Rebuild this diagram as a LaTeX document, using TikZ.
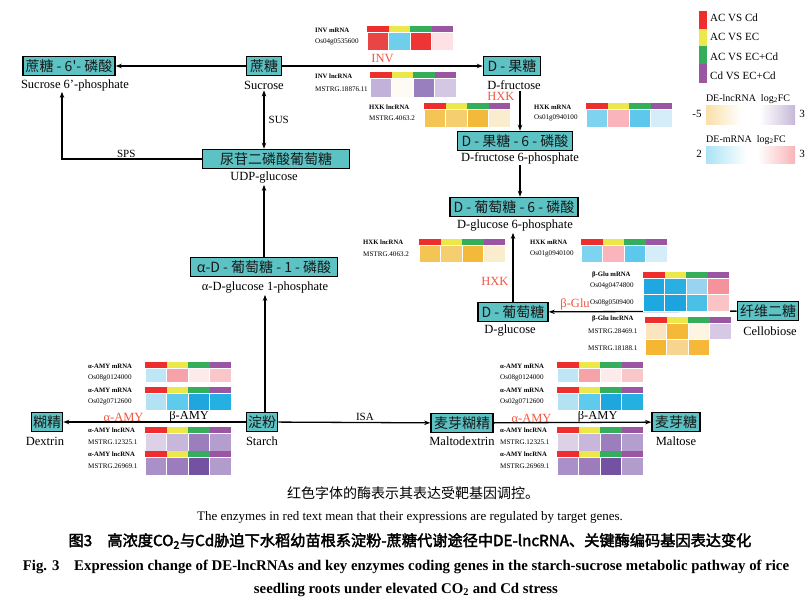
\documentclass[tikz,border=0pt]{standalone}
\usepackage{fontspec}
\setmainfont{Liberation Serif}
\newfontfamily\cjk{Noto Sans CJK SC}
\newfontfamily\cjkb[FakeBold=2.5]{Noto Sans CJK SC}
\usetikzlibrary{positioning,arrows.meta}

\definecolor{boxteal}{HTML}{5CC2C4}
\definecolor{hmred}{HTML}{EE2D2D}
\definecolor{hmyel}{HTML}{EDE84A}
\definecolor{hmgrn}{HTML}{35AE5C}
\definecolor{hmpur}{HTML}{9A55A3}
\definecolor{enzred}{HTML}{F0553F}
\definecolor{lncorg}{HTML}{F3B73C}
\definecolor{lncpur}{HTML}{7E5FA8}
\definecolor{mrblue}{HTML}{4DC4EA}
\definecolor{mrred}{HTML}{EE5A62}
\pgfdeclarehorizontalshading{lncbar}{100bp}{color(0bp)=(lncorg); color(45bp)=(white); color(55bp)=(white); color(100bp)=(lncpur)}
\pgfdeclarehorizontalshading{mrbar}{100bp}{color(0bp)=(mrblue); color(48bp)=(white); color(54bp)=(white); color(100bp)=(mrred)}

\newcommand{\hmhead}[2]{%
  \foreach \c [count=\i from 0] in {hmred,hmyel,hmgrn,hmpur}
    \fill[\c] (#1+21.5*\i,#2) rectangle ++(21.5,6);}
\newcommand{\hmrow}[4]{%
  \foreach \c [count=\i from 0] in {#4}{%
    \edef\tmp{\noexpand\definecolor{cellc}{HTML}{\c}}\tmp
    \filldraw[fill=cellc,draw=white,line width=0.4pt] (#1+21.5*\i,#2) rectangle ++(21.5,#3);}}

\begin{document}
\begin{tikzpicture}[x=1pt,y=-1pt,
    cn/.style={draw=black, line width=1.6pt, fill=boxteal, inner sep=1pt, minimum height=19pt,
      font=\cjk\fontsize{14}{14}\selectfont, text=black!90},
    en/.style={inner sep=1pt, font=\fontsize{12.5}{13}\selectfont},
    arr/.style={-{Stealth[length=6pt,width=4.5pt]}, line width=1.3pt, draw=black},
    enz/.style={inner sep=1pt, text=enzred, font=\fontsize{12.5}{13}\selectfont},
    enzb/.style={inner sep=1pt, font=\fontsize{12.5}{13}\selectfont},
    lab/.style={inner sep=1pt, font=\fontsize{11}{12}\selectfont},
    hmb/.style={anchor=west, inner sep=0pt, font=\fontsize{6.7}{7}\bfseries\selectfont},
    hmg/.style={anchor=west, inner sep=0pt, font=\fontsize{7.1}{8}\selectfont},
    leg/.style={anchor=west, inner sep=0pt, font=\fontsize{11}{12}\selectfont}]

    \useasboundingbox (0,0) rectangle (812,605);

    \node[cn, minimum width=92pt] (sucp) at (69,66) {蔗糖 - 6'- 磷酸};
    \node[en] (sucpl) at (75,85) {Sucrose 6'-phosphate};
    \node[cn, minimum width=35pt] (suc) at (264,66) {蔗糖};
    \node[en] (sucl) at (264,85) {Sucrose};
    \node[cn, minimum width=57pt] (fru) at (512,66) {D - 果糖};
    \node[en] (frul) at (514,85) {D-fructose};
    \node[cn, minimum width=115pt] (f6p) at (515,141) {D - 果糖 - 6 - 磷酸};
    \node[en] (f6pl) at (520,158) {D-fructose 6-phosphate};
    \node[cn, minimum width=128pt] (g6p) at (514,207) {D - 葡萄糖 - 6 - 磷酸};
    \node[en] (g6pl) at (515,226) {D-glucose 6-phosphate};
    \node[cn, minimum width=70pt] (glc) at (513,312) {D - 葡萄糖};
    \node[en] (glcl) at (510,331) {D-glucose};
    \node[cn, minimum width=61pt] (cel) at (768,311) {纤维二糖};
    \node[en] (cbl) at (770,331) {Cellobiose};
    \node[cn, minimum width=147pt] (udpg) at (276,159) {尿苷二磷酸葡萄糖};
    \node[en] (udpgl) at (264,178) {UDP-glucose};
    \node[cn, minimum width=147pt] (g1p) at (264,267) {α-D - 葡萄糖 - 1 - 磷酸};
    \node[en] (g1pl) at (265,288) {α-D-glucose 1-phosphate};
    \node[cn, minimum width=31pt] (starch) at (262,422) {淀粉};
    \node[en] (starchl) at (262,441) {Starch};
    \node[cn, minimum width=31pt] (dex) at (47,422) {糊精};
    \node[en] (dexl) at (45,441) {Dextrin};
    \node[cn, minimum width=62pt] (mdex) at (462,423) {麦芽糊精};
    \node[en] (mdexl) at (462,441) {Maltodextrin};
    \node[cn, minimum width=48pt] (malt) at (676,422) {麦芽糖};
    \node[en] (maltl) at (676,441) {Maltose};

    \draw[arr] (suc) -- (sucp);
    \draw[arr] (suc) -- node[enz, above=2pt] {INV} (fru);
    \draw[arr, {Stealth[length=6pt,width=4.5pt]}-{Stealth[length=6pt,width=4.5pt]}]
        (sucl.south) -- node[enzb, right=3pt, font=\fontsize{11}{12}\selectfont] {SUS} (sucl.south |- udpg.north);
    \draw[arr] (udpg.west) -| node[enzb, above, pos=0.27, font=\fontsize{11}{12}\selectfont] {SPS} ([xshift=-13pt]sucpl.south);
    \draw[arr] (g1p.north -| udpgl) -- (udpgl.south);
    \draw[arr] (starch.north -| g1pl) -- (g1pl.south);
    \draw[arr] (frul.south -| f6pl) -- node[enz, left=4pt, pos=0.15] {HXK} (f6p.north -| f6pl);
    \draw[arr] (f6pl.south) -- (f6pl.south |- g6p.north);
    \draw[arr] (glc.north) -- node[enz, left=3pt, pos=0.3] {HXK} (glc.north |- g6pl.south);
    \draw[arr] (cel) -- node[enz, above, pos=0.86] {β-Glu} (glc);
    \draw[arr] (starch) -- node[enz, above=-1.5pt, pos=0.67] {α-AMY} node[enzb, above=-1.5pt, pos=0.31] {β-AMY} (dex);
    \draw[arr] (starch) -- node[enzb, above, pos=0.57, font=\fontsize{11}{12}\selectfont] {ISA} (mdex);
    \draw[arr] (mdex) -- node[enz, above=-1.5pt, pos=0.24] {α-AMY} node[enzb, above=-1.5pt, pos=0.66] {β-AMY} (malt);

    \node[hmb] (h1a) at (315,30) {INV mRNA};
    \node[hmg] (h1b) at (315,42) {Os04g0535600};
    \hmhead{367}{26}
    \hmrow{367}{32}{18}{E94545,6FCFEA,EF3435,FDE1E5}

    \node[hmb] (h2a) at (315,76) {INV lncRNA};
    \node[hmg] (h2b) at (315,89) {MSTRG.18876.11};
    \hmhead{370}{72}
    \hmrow{370}{78}{19}{C2B1D8,FEFBF5,9A7FBF,D4C7E3}

    \node[hmb] (h3a) at (369,107) {HXK lncRNA};
    \node[hmg] (h3b) at (369,118) {MSTRG.4063.2};
    \hmhead{424}{103}
    \hmrow{424}{109}{18}{F4C455,F5CE70,F3B93B,F9EDCD}

    \node[hmb] (h4a) at (534,107) {HXK mRNA};
    \node[hmg] (h4b) at (534,118) {Os01g0940100};
    \hmhead{586}{103}
    \hmrow{586}{109}{18}{7ED3F0,F9B4BC,5DC8EC,D5EDF8}

    \node[hmb] (h5a) at (363,242) {HXK lncRNA};
    \node[hmg] (h5b) at (363,254) {MSTRG.4063.2};
    \hmhead{419}{239}
    \hmrow{419}{245}{17}{F4C455,F5CE70,F3B93B,F9EDCD}

    \node[hmb] (h6a) at (530,242) {HXK mRNA};
    \node[hmg] (h6b) at (530,254) {Os01g0940100};
    \hmhead{581}{239}
    \hmrow{581}{245}{17}{7ED3F0,F9B4BC,5DC8EC,D5EDF8}

    \node[hmb] (h7a) at (592,275) {β-Glu mRNA};
    \node[hmg] (h7b) at (590,286) {Os04g0474800};
    \node[hmg] (h7c) at (590,303) {Os08g0509400};
    \hmhead{643}{272}
    \hmrow{643}{278}{16}{20A6E0,2AAFE3,98D4EF,F5939C}
    \hmrow{643}{294}{17}{1EA8E1,1DA3DE,4AC0E7,FAC4C6}

    \node[hmb] (h8a) at (592,319) {β-Glu lncRNA};
    \node[hmg] (h8b) at (588,331) {MSTRG.28469.1};
    \node[hmg] (h8c) at (588,348) {MSTRG.18188.1};
    \hmhead{645}{317}
    \hmrow{645}{323}{16}{FBE5BF,F5B937,FDF4E2,D7C9E3}
    \hmrow{645}{339}{16}{F4B633,F7D48F,F5B83B,FFFFFF}

    \foreach \lx/\mx/\s in {88/145/l, 500/557/r}{
        \node[hmb] (\s a1) at (\lx,366) {α-AMY mRNA};
        \node[hmg] (\s a2) at (\lx,378) {Os08g0124000};
        \node[hmb] (\s a3) at (\lx,390) {α-AMY mRNA};
        \node[hmg] (\s a4) at (\lx,402) {Os02g0712600};
        \node[hmb] (\s a5) at (\lx,430) {α-AMY lncRNA};
        \node[hmg] (\s a6) at (\lx,442) {MSTRG.12325.1};
        \node[hmb] (\s a7) at (\lx,454) {α-AMY lncRNA};
        \node[hmg] (\s a8) at (\lx,466) {MSTRG.26969.1};
        \hmhead{\mx}{362}
        \hmrow{\mx}{368}{14}{BEE6F5,F6A2A9,FDEAEB,F9C6C9}
        \hmhead{\mx}{387}
        \hmrow{\mx}{393}{17}{B3E2F2,5ECBEC,1FA6DF,24B1E2}
        \hmhead{\mx}{427}
        \hmrow{\mx}{433}{18}{DDD1E7,C8B7DB,9C7EBC,B49ECD}
        \hmhead{\mx}{451}
        \hmrow{\mx}{457}{18}{AA90C8,9C7CBD,7551A1,B29CCC}
    }

    \fill[hmred] (699,11) rectangle (707,29);
    \fill[hmyel] (699,29) rectangle (707,46);
    \fill[hmgrn] (699,46) rectangle (707,64);
    \fill[hmpur] (699,64) rectangle (707,83);
    \node[leg] (lg1) at (710,18) {AC VS Cd};
    \node[leg] (lg2) at (710,37) {AC VS EC};
    \node[leg] (lg3) at (710,57) {AC VS EC+Cd};
    \node[leg] (lg4) at (710,76) {Cd VS EC+Cd};

    \node[lab, font=\fontsize{10}{11}\selectfont] (lnct) at (748,99) {DE-lncRNA\ \ log\textsubscript{2}FC};
    \shade[shading=lncbar] (706,105) rectangle (795,124);
    \node[lab] (lnc0) at (697,114) {-5};
    \node[lab] (lnc1) at (802,114) {3};
    \node[lab, font=\fontsize{10}{11}\selectfont] (mrt) at (746,140) {DE-mRNA\ \ log\textsubscript{2}FC};
    \shade[shading=mrbar] (706,146) rectangle (795,163);
    \node[lab] (mr0) at (699,154) {2};
    \node[lab] (mr1) at (802,154) {3};

    \node[font=\cjk\fontsize{14}{15}\selectfont] (note) at (413,493) {红色字体的酶表示其表达受靶基因调控。};
    \node[font=\fontsize{13}{14}\selectfont] (notee) at (410,517) {The enzymes in red text mean that their expressions are regulated by target genes.};
    \node[font=\cjkb\fontsize{15.2}{16}\selectfont] (capc) at (410,541) {图3\quad 高浓度CO\textsubscript{2}与Cd胁迫下水稻幼苗根系淀粉-蔗糖代谢途径中DE-lncRNA、关键酶编码基因表达变化};
    \node[font=\bfseries\fontsize{14.8}{15}\selectfont] (cape1) at (406,567) {Fig. 3\quad Expression change of DE-lncRNAs and key enzymes coding genes in the starch-sucrose metabolic pathway of rice};
    \node[font=\bfseries\fontsize{14.8}{15}\selectfont] (cape2) at (406,590) {seedling roots under elevated CO\textsubscript{2} and Cd stress};
\end{tikzpicture}
\end{document}
